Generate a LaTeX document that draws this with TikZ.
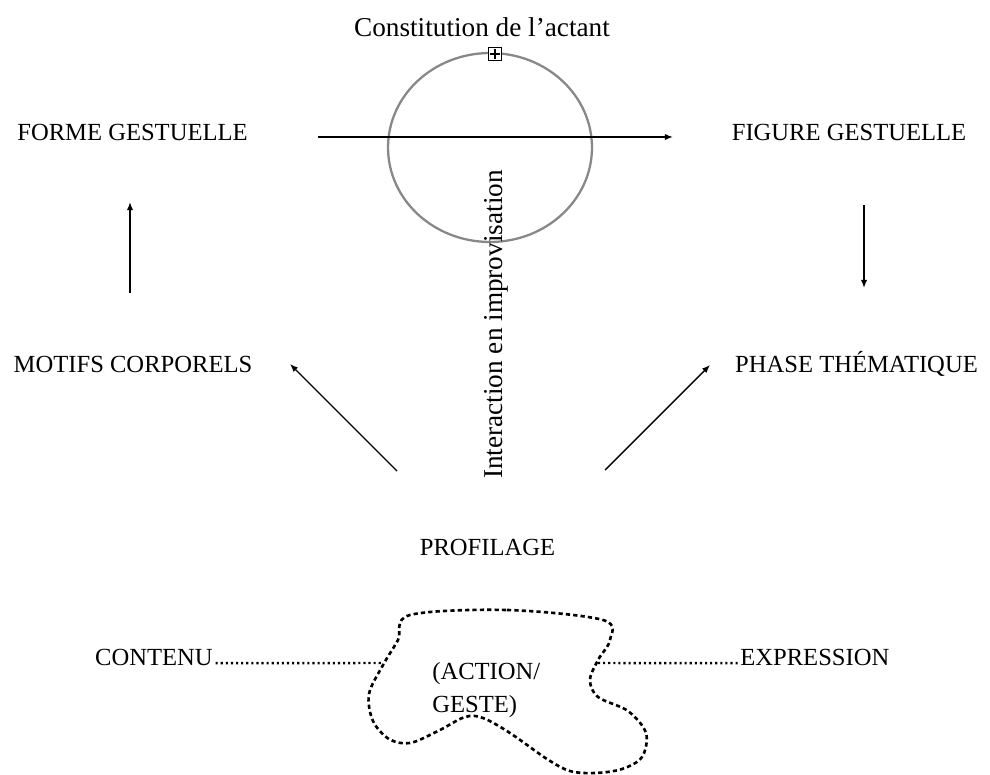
\documentclass[tikz,border=0pt]{standalone}
\usepackage{fontspec}
\setmainfont{Liberation Serif}
\usetikzlibrary{arrows.meta,shapes.geometric}
\tikzstyle{term}=[inner sep=0pt, anchor=base, font=\fontsize{14}{17}\selectfont]
\tikzstyle{note}=[inner sep=0pt, anchor=base, font=\fontsize{15.5}{18}\selectfont]
\tikzstyle{link}=[-{Latex[length=4.6pt,width=3.6pt]}, line width=0.8pt]
\tikzstyle{dots}=[line width=1.4pt, dash pattern=on 1.2pt off 1.7pt]
\tikzstyle{blob}=[line width=1.5pt, dash pattern=on 2.4pt off 1.8pt]
\newcommand{\term}{\node[term]}
\definecolor{ringgray}{RGB}{134,137,140}

\begin{document}
\begin{tikzpicture}[x=0.02cm, y=-0.02cm]
            \useasboundingbox (0,0) rectangle (990,774);
            % top: the actant
            \node[note] (actant) at (482,36) {Constitution de l’actant};
            \node[draw=ringgray, line width=1.3pt, ellipse, inner sep=0pt,
                minimum width=4.08cm, minimum height=3.78cm] (ring) at (490,147.5) {};
            \node[draw, fill=white, line width=0.6pt, inner sep=0pt, minimum size=7.6pt] (plus) at (495,54) {};
            \draw[line width=0.6pt] ([yshift=-1.3pt]plus.north) -- ([yshift=1.3pt]plus.south)
                ([xshift=1.3pt]plus.west) -- ([xshift=-1.3pt]plus.east);
            \node[note, rotate=90] (interaction) at (502,324.5) {Interaction en improvisation};
            % the four corners
            \term (forme) at (132.5,140) {FORME GESTUELLE};
            \term (figure) at (849,140) {FIGURE GESTUELLE};
            \term (motifs) at (133,372) {MOTIFS CORPORELS};
            \term (phase) at (856.5,372) {PHASE THÉMATIQUE};
            \term (profilage) at (487.5,555) {PROFILAGE};
            % arrows
            \coordinate (h1) at (318,137);
            \coordinate (h2) at (673,137);
            \coordinate (u1) at (130,293);
            \coordinate (u2) at (130,202);
            \coordinate (d1) at (864,205);
            \coordinate (d2) at (864,288);
            \coordinate (l1) at (397,471);
            \coordinate (l2) at (290,364);
            \coordinate (r1) at (605,470);
            \coordinate (r2) at (710,365);
            \path[link]
                (h1) edge (h2)
                (u1) edge (u2)
                (d1) edge (d2)
                (l1) edge (l2)
                (r1) edge (r2)
            ;
            % bottom: content and expression
            \term[anchor=base east] (contenu) at (213,665) {CONTENU};
            \term[anchor=base west] (expression) at (740,665) {EXPRESSION};
            \node[term, anchor=west, align=left, font=\fontsize{14}{18.7}\selectfont] (action) at (432,690) {(ACTION/\\GESTE)};
            \draw[blob] plot[smooth cycle, tension=0.55] coordinates {
                (410,615) (507,610) (603,620) (610,640) (598,660) (590,680) (598,697)
                (628,711) (646,733) (642,757) (622,769) (595,773) (570,771) (547,759)
                (510,733) (483,718) (465,717) (438,731) (410,743) (389,739) (373,721)
                (369,694) (383,665) (398,640)};
            \coordinate (bl) at (383,663);
            \coordinate (br) at (598,663);
            \draw[dots] ([xshift=1.5pt,yshift=1.1pt]contenu.base east) -- (bl);
            \draw[dots] (br) -- ([xshift=-1pt,yshift=1.1pt]expression.base west);
\end{tikzpicture}
\end{document}
